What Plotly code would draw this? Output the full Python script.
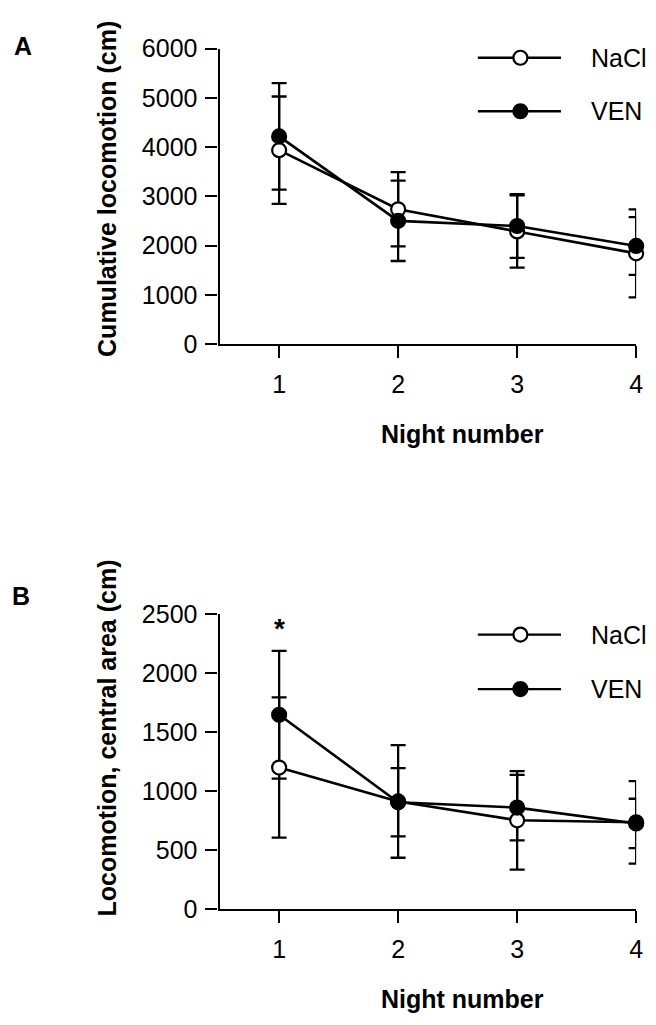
import plotly.graph_objects as go

W, H = 656, 1025

nights = [1, 2, 3, 4]
tick_labels = ["1", "2", "3", "4"]

# Panel A: cumulative locomotion (cm)
a_nacl = [3940, 2740, 2290, 1845]
a_nacl_err = [1090, 755, 735, 895]
a_ven = [4220, 2505, 2400, 1995]
a_ven_err = [1080, 815, 645, 585]

# Panel B: locomotion, central area (cm)
b_nacl = [1200, 912, 752, 735]
b_nacl_err = [595, 478, 418, 350]
b_ven = [1648, 905, 860, 725]
b_ven_err = [542, 290, 278, 210]

a_yticks = [0, 1000, 2000, 3000, 4000, 5000, 6000]
b_yticks = [0, 500, 1000, 1500, 2000, 2500]

series_names = ["NaCl", "VEN"]
star_value = 2380  # position of significance mark (night 1, panel B)

FONT = "Liberation Sans, Arial, Helvetica, sans-serif"
BLACK = "black"


def px_x(p):
    return p / W


def px_y(p):
    return 1 - p / H


fig = go.Figure()


def add_panel(xa, ya, nacl, nacl_err, ven, ven_err):
    # error bars first (below markers)
    for vals, errs in ((nacl, nacl_err), (ven, ven_err)):
        fig.add_trace(go.Scatter(
            x=nights, y=vals, xaxis=xa, yaxis=ya, mode="markers",
            marker=dict(size=1, color="rgba(0,0,0,0)"),
            error_y=dict(type="data", array=errs, symmetric=True,
                         color=BLACK, thickness=2.3, width=7.5),
            showlegend=False, hoverinfo="skip", cliponaxis=False))
    fig.add_trace(go.Scatter(
        x=nights, y=nacl, xaxis=xa, yaxis=ya, mode="lines+markers",
        name=series_names[0],
        line=dict(color=BLACK, width=2.6),
        marker=dict(symbol="circle", size=14, color="white",
                    line=dict(color=BLACK, width=2.2)),
        showlegend=False, cliponaxis=False))
    fig.add_trace(go.Scatter(
        x=nights, y=ven, xaxis=xa, yaxis=ya, mode="lines+markers",
        name=series_names[1],
        line=dict(color=BLACK, width=2.6),
        marker=dict(symbol="circle", size=14, color=BLACK,
                    line=dict(color=BLACK, width=2.2)),
        showlegend=False, cliponaxis=False))


add_panel("x", "y", a_nacl, a_nacl_err, a_ven, a_ven_err)
add_panel("x2", "y2", b_nacl, b_nacl_err, b_ven, b_ven_err)

xdom = [px_x(222), px_x(643)]
axis_common = dict(showline=True, linecolor=BLACK, linewidth=2.3,
                   ticks="outside", ticklen=12, tickwidth=2.3, tickcolor=BLACK,
                   showgrid=False, zeroline=False,
                   tickfont=dict(family=FONT, size=25, color=BLACK))

fig.update_layout(
    width=W, height=H,
    margin=dict(l=0, r=0, t=0, b=0),
    paper_bgcolor="white", plot_bgcolor="white",
    showlegend=False,
    xaxis=dict(domain=xdom, anchor="y", range=[0.5, 4.0],
               tickvals=nights, ticktext=tick_labels,
               ticklabelstandoff=5, **axis_common),
    yaxis=dict(domain=[px_y(339.5), px_y(35.7)], anchor="x", range=[0, 6000],
               tickvals=a_yticks, ticklabelstandoff=3, **axis_common),
    xaxis2=dict(domain=xdom, anchor="y2", range=[0.5, 4.0],
                tickvals=nights, ticktext=tick_labels,
                ticklabelstandoff=5, **axis_common),
    yaxis2=dict(domain=[px_y(920), px_y(617.3)], anchor="x2", range=[0, 2500],
                tickvals=b_yticks, ticklabelstandoff=3, **axis_common),
)

shapes = []
annotations = []


def txt(x, y, text, size=24, bold=False, angle=0, xanchor="center"):
    annotations.append(dict(
        x=px_x(x), y=px_y(y), xref="paper", yref="paper",
        text=f"<b>{text}</b>" if bold else text, showarrow=False,
        textangle=angle, xanchor=xanchor, yanchor="middle",
        font=dict(family=FONT, size=size, color=BLACK)))


# panel letters
txt(23, 33, "A", size=25, bold=True)
txt(21, 598, "B", size=25, bold=True)

# axis titles
txt(108, 180, "Cumulative locomotion (cm)", size=25, bold=True, angle=-90)
txt(108, 744, "Locomotion, central area (cm)", size=25, bold=True, angle=-90)
txt(467, 432, "Night number", size=25, bold=True)
txt(467, 1013, "Night number", size=25, bold=True)


# legends drawn in paper space
def legend_item(ly, name, filled):
    shapes.append(dict(type="line", xref="paper", yref="paper",
                       x0=px_x(483), x1=px_x(567), y0=px_y(ly), y1=px_y(ly),
                       line=dict(color=BLACK, width=2.3)))
    shapes.append(dict(type="circle", xref="paper", yref="paper",
                       xsizemode="pixel", ysizemode="pixel",
                       xanchor=px_x(526), yanchor=px_y(ly),
                       x0=-7, x1=7, y0=-7, y1=7,
                       fillcolor=BLACK if filled else "white",
                       line=dict(color=BLACK, width=2.2)))
    txt(595, ly, name, size=25, xanchor="left")


legend_item(45, series_names[0], False)
legend_item(100, series_names[1], True)
legend_item(638, series_names[0], False)
legend_item(694, series_names[1], True)

# significance asterisk
annotations.append(dict(x=nights[0], y=star_value, xref="x2", yref="y2",
                        text="<b>*</b>", showarrow=False, yanchor="middle",
                        font=dict(family=FONT, size=28, color=BLACK)))

fig.update_layout(shapes=shapes, annotations=annotations)

fig.write_html(
    "out.html",
    config={"displayModeBar": False},
    post_script=(
        "document.documentElement.style.margin='0';"
        "document.documentElement.style.overflow='hidden';"
        "document.body.style.margin='0';"
        "document.body.style.padding='0';"
        "document.body.style.overflow='hidden';"
    ),
)
